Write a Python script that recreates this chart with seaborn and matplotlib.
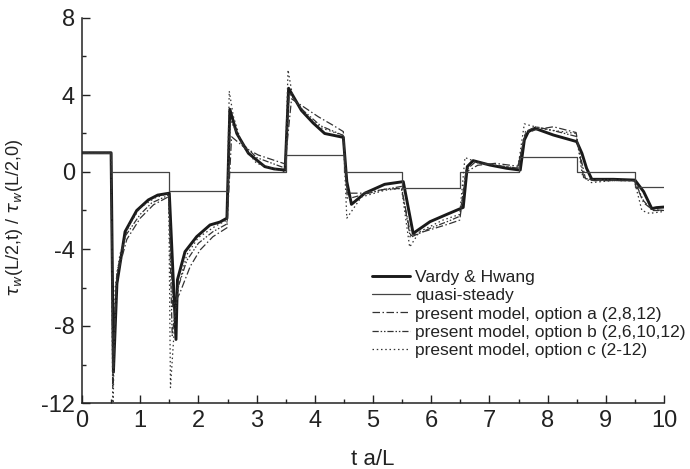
import pandas as pd
import matplotlib
matplotlib.use('Agg')
import matplotlib.pyplot as plt
import seaborn as sns
from matplotlib.ticker import MultipleLocator

# Vardy & Hwang
vh_t = [0, 0.5, 0.54, 0.6, 0.74, 0.94, 1.14, 1.3, 1.5, 1.615, 1.64, 1.77, 1.97, 2.2, 2.37, 2.49,
        2.54, 2.66, 2.86, 3.14, 3.3, 3.49, 3.55, 3.77, 3.97, 4.17, 4.49, 4.55, 4.63, 4.86, 5.2, 5.52,
        5.69, 5.98, 6.27, 6.55, 6.62, 6.72, 7.01, 7.3, 7.53, 7.6, 7.67, 7.78, 8.1, 8.5, 8.59, 8.67,
        8.76, 9.13, 9.5, 9.65, 9.79, 9.87, 10.0]
vh_v = [1, 1, -10.4, -5.8, -3.1, -2.0, -1.45, -1.2, -1.1, -8.7, -5.6, -4.14, -3.36, -2.75, -2.6, -2.4,
        3.26, 2.0, 0.97, 0.28, 0.16, 0.1, 4.35, 3.2, 2.55, 2.0, 1.8, -0.5, -1.68, -1.1, -0.64, -0.5,
        -3.19, -2.58, -2.2, -1.84, 0.28, 0.59, 0.36, 0.19, 0.1, 1.66, 2.1, 2.27, 1.92, 1.58, 0.97, 0.19,
        -0.38, -0.38, -0.42, -1.02, -1.9, -1.85, -1.82]

# quasi-steady (step)
qs_t = [0, 0.5, 1.5, 2.5, 3.5, 4.5, 5.5, 6.5, 7.5, 8.5, 9.5, 10.0]
qs_v = [1, 0, -0.97, 0, 0.88, 0, -0.85, 0, 0.8, 0, -0.8, -0.8]

# option a (2,8,12)
a_t = [0, 0.5, 0.53, 0.6, 0.77, 1.0, 1.23, 1.49, 1.56, 1.68, 1.86, 2.03, 2.25, 2.49, 2.57, 2.8, 3.03,
       3.49, 3.6, 3.8, 4.06, 4.3, 4.49, 4.56, 4.8, 5.2, 5.49, 5.65, 5.98, 6.3, 6.49, 6.6, 6.8, 7.1,
       7.49, 7.62, 7.8, 8.1, 8.49, 8.62, 8.8, 9.1, 9.49, 9.65, 9.8, 10.0]
a_v = [1, 1, -10.0, -5.4, -3.5, -2.4, -1.7, -1.28, -7.0, -6.3, -4.9, -4.05, -3.36, -2.9, 1.83, 1.25,
       0.88, 0.42, 3.8, 3.4, 2.87, 2.45, 2.1, -1.1, -1.1, -0.9, -0.85, -3.3, -3.0, -2.7, -2.5, 0.0,
       0.35, 0.45, 0.3, 2.0, 2.2, 2.35, 2.05, -0.3, -0.45, -0.45, -0.45, -1.6, -1.95, -2.0]

# option b (2,6,10,12)
b_t = [0, 0.5, 0.53, 0.6, 0.75, 1.0, 1.2, 1.49, 1.55, 1.65, 1.8, 2.0, 2.25, 2.49, 2.55, 2.75, 3.0,
       3.49, 3.56, 3.8, 4.1, 4.49, 4.56, 4.8, 5.2, 5.49, 5.64, 6.0, 6.3, 6.49, 6.6, 6.75, 7.1, 7.49,
       7.62, 7.8, 8.1, 8.49, 8.65, 8.8, 9.1, 9.49, 9.65, 9.8, 10.0]
b_v = [1, 1, -11.2, -5.2, -3.3, -2.2, -1.6, -1.2, -8.5, -6.0, -4.6, -3.7, -3.1, -2.7, 2.7, 1.5, 0.75,
       0.2, 4.1, 3.2, 2.4, 1.9, -1.4, -1.2, -0.9, -0.75, -3.4, -2.9, -2.55, -2.3, 0.1, 0.5, 0.35, 0.2,
       2.1, 2.35, 2.15, 1.85, -0.35, -0.4, -0.4, -0.45, -1.5, -2.0, -2.0]

# option c (2-12)
c_t = [0, 0.5, 0.53, 0.57, 0.65, 0.8, 1.0, 1.25, 1.49, 1.52, 1.6, 1.66, 1.8, 2.0, 2.3, 2.49, 2.53,
       2.6, 2.75, 3.0, 3.49, 3.54, 3.62, 3.8, 4.1, 4.49, 4.55, 4.8, 5.2, 5.49, 5.63, 5.8, 6.2, 6.49,
       6.58, 6.75, 7.1, 7.49, 7.6, 7.72, 8.0, 8.49, 8.6, 8.75, 9.1, 9.49, 9.62, 9.75, 10.0]
c_v = [1, 1, -13.0, -6.0, -4.3, -2.8, -1.85, -1.35, -1.1, -11.2, -7.5, -5.9, -4.3, -3.4, -2.8, -2.5,
       4.2, 2.9, 1.4, 0.45, 0.0, 5.3, 3.9, 3.1, 2.3, 1.9, -2.4, -1.3, -0.95, -0.85, -3.9, -3.1, -2.5,
       -2.2, 0.75, 0.55, 0.35, 0.2, 2.5, 2.4, 2.2, 2.0, -0.2, -0.55, -0.45, -0.45, -2.0, -2.15, -2.05]

labels = ['Vardy & Hwang', 'quasi-steady', 'present model, option a (2,8,12)',
          'present model, option b (2,6,10,12)', 'present model, option c (2-12)']

sns.set_theme(style='ticks')
plt.rcParams['font.family'] = ['Liberation Sans', 'DejaVu Sans']
plt.rcParams['mathtext.fontset'] = 'dejavusans'
plt.rcParams['axes.unicode_minus'] = False

fig = plt.figure(figsize=(6.9, 4.69), dpi=100)
ax = fig.add_axes([82 / 690, 1 - 403 / 469, 582 / 690, 385 / 469])

sns.lineplot(x=vh_t, y=vh_v, ax=ax, sort=False, estimator=None, color='#1a1a1a', lw=2.1, label=labels[0])
sns.lineplot(x=qs_t, y=qs_v, ax=ax, sort=False, estimator=None, color='#444444', lw=0.9,
             drawstyle='steps-post', label=labels[1])
sns.lineplot(x=a_t, y=a_v, ax=ax, sort=False, estimator=None, color='#333333', lw=0.9,
             linestyle=(0, (6, 2, 1.2, 2)), label=labels[2])
sns.lineplot(x=b_t, y=b_v, ax=ax, sort=False, estimator=None, color='#333333', lw=0.9,
             linestyle=(0, (5, 1.5, 1.2, 1.5, 1.2, 1.5)), label=labels[3])
sns.lineplot(x=c_t, y=c_v, ax=ax, sort=False, estimator=None, color='#333333', lw=0.9,
             linestyle=(0, (1.2, 2.2)), label=labels[4])

ax.set_xlim(0, 10)
ax.set_ylim(-12, 8)
ax.xaxis.set_major_locator(MultipleLocator(1))
ax.xaxis.set_minor_locator(MultipleLocator(0.5))
ax.yaxis.set_major_locator(MultipleLocator(4))
ax.yaxis.set_minor_locator(MultipleLocator(2))
ax.tick_params(which='both', direction='in', colors='#222222', labelsize=17, width=1)
ax.tick_params(which='major', length=6, pad=5)
ax.tick_params(which='minor', length=3)
for s in ['top', 'right']:
    ax.spines[s].set_visible(False)
for s in ['left', 'bottom']:
    ax.spines[s].set_color('#222222')
    ax.spines[s].set_linewidth(1.1)

ax.set_xlabel('t a/L', fontsize=16, color='#222222', labelpad=12)
ax.set_ylabel(r'$\tau_w$(L/2,t) / $\tau_w$(L/2,0)', fontsize=13, color='#222222', labelpad=8)
ax.yaxis.set_label_coords(-0.098, 0.48)

ax.legend(loc='upper left', bbox_to_anchor=(0.498, 0.345), frameon=False, fontsize=12.5,
          handlelength=2.2, handletextpad=0.3, labelspacing=0.17, borderaxespad=0, borderpad=0,
          labelcolor='#222222')

fig.savefig('out.png', dpi=100)
